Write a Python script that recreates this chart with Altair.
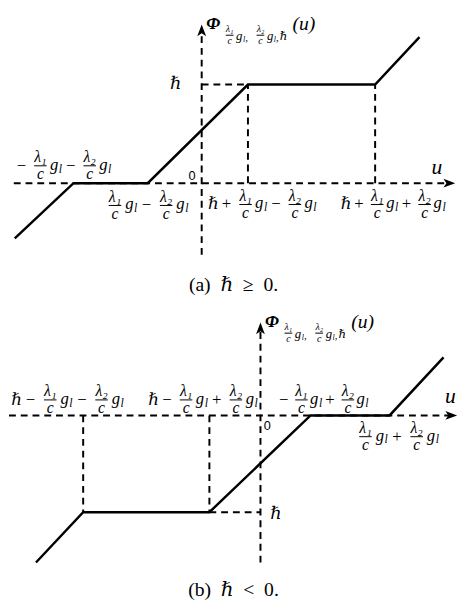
import altair as alt
import pandas as pd

# ---------------- data (u, Phi) in diagram units (1 unit = 10 reference px) -------------
# Panel (a): hbar >= 0  -- knots of the piecewise-linear function
A_KNOT_U = [-19.4, -13.3, -5.6, 4.8, 18.0, 22.6]
A_KNOT_V = [-5.7, 0.0, 0.0, 10.2, 10.2, 15.1]
A_XAXIS = [-19.5, 26.3]          # horizontal axis extent (arrow tip on the right)
A_YAXIS = [-7.4, 16.4]           # vertical axis extent (arrow tip on top)
A_DOM_U = [-20.0, 26.6]
A_DOM_V = [-12.7, 17.3]
A_LABELS = [  # first token centre u, last token centre u, fraction-bar v, tokens
    (-18.7, -10.0, 1.8, ["-", "F1", "g", "-", "F2", "g"]),
    (-9.0, -2.0, -2.3, ["F1", "g", "-", "F2", "g"]),
    (1.2, 11.3, -2.2, ["h", "+", "F1", "g", "-", "F2", "g"]),
    (15.0, 24.7, -2.2, ["h", "+", "F1", "g", "+", "F2", "g"]),
]
A_ZERO = (-1.0, 0.3)
A_HLABEL = (-2.7, 9.7)
A_ULABEL = (24.4, 1.0)
A_CAPTION = ("(a)\u2002\u210f\u2002\u2265\u20020.", 3.3, -11.1)

# Panel (b): hbar < 0
B_KNOT_U = [-23.3, -18.4, -5.3, 5.2, 13.4, 19.0]
B_KNOT_V = [-15.2, -10.0, -10.0, 0.0, 0.0, 6.0]
B_XAXIS = [-26.1, 20.4]
B_YAXIS = [-15.2, 9.6]
B_DOM_U = [-26.1, 20.5]
B_DOM_V = [-19.5, 11.3]
B_LABELS = [
    (-25.3, -14.8, 1.6, ["h", "-", "F1", "g", "-", "F2", "g"]),
    (-11.1, -0.9, 1.6, ["h", "-", "F1", "g", "+", "F2", "g"]),
    (2.4, 10.6, 1.6, ["-", "F1", "g", "+", "F2", "g"]),
    (10.9, 17.9, -2.2, ["F1", "g", "+", "F2", "g"]),
]
B_ZERO = (0.7, -1.5)
B_HLABEL = (1.6, -10.7)
B_ULABEL = (19.7, 1.3)
B_CAPTION = ("(b)\u2002\u210f\u2002<\u20020.", -2.8, -18.7)

WIDTH = 458
A_HEIGHT = 296
B_HEIGHT = 304

SERIF = "'Liberation Serif', 'DejaVu Serif', serif"
SANS = "'Liberation Sans', 'DejaVu Sans', sans-serif"
PX = 0.1  # one reference pixel in diagram units
TOKEN_W = {"h": 9, "op": 19, "frac": 21, "g": 12}
KIND = {"h": "h", "-": "op", "+": "op", "F1": "frac", "F2": "frac", "g": "g"}
RIGHT_ARROW = "M1,0L-1,-0.75L-0.5,0L-1,0.75Z"
UP_ARROW = "M0,-1L-0.75,1L0,0.5L0.75,1Z"


def label_rows(first, last, bar, tokens, texts, bars):
    centers = [0.0]
    for a, b in zip(tokens, tokens[1:]):
        centers.append(centers[-1] + (TOKEN_W[KIND[a]] + TOKEN_W[KIND[b]]) / 2)
    s = (last - first) / centers[-1]
    for t, c in zip(tokens, centers):
        cx = first + c * s
        if t == "h":
            texts.append(dict(x=cx, y=bar - 5 * PX, t="\u210f", s=17, f="it"))
        elif t in ("-", "+"):
            texts.append(dict(x=cx, y=bar - 5 * PX, t="\u2212" if t == "-" else "+", s=17, f="rm"))
        elif t in ("F1", "F2"):
            texts.append(dict(x=cx, y=bar + 4 * PX, t="\u03bb\u2081" if t == "F1" else "\u03bb\u2082", s=16, f="it"))
            texts.append(dict(x=cx, y=bar - 14 * PX, t="c", s=16, f="it"))
            bars.append(dict(x=cx - 6.5 * PX, x2=cx + 6.5 * PX, y=bar, y2=bar))
        else:
            texts.append(dict(x=cx - 2 * PX, y=bar - 4 * PX, t="g", s=17, f="it"))
            texts.append(dict(x=cx + 4.5 * PX, y=bar - 7 * PX, t="l", s=12, f="it"))


def phi_rows(tip, texts, bars):
    def X(dx):
        return dx * PX

    def Y(dy):
        return tip - dy * PX

    texts.append(dict(x=X(12), y=Y(5), t="\u03a6", s=18, f="bi"))
    for dx, num in [(29, "\u03bb\u2081"), (61, "\u03bb\u2082")]:
        texts.append(dict(x=X(dx), y=Y(8), t=num, s=10, f="it"))
        texts.append(dict(x=X(dx), y=Y(20), t="c", s=10, f="it"))
        bars.append(dict(x=X(dx - 4), x2=X(dx + 4), y=Y(11), y2=Y(11)))
    for dx in [40, 72]:
        texts.append(dict(x=X(dx - 1), y=Y(16), t="g", s=13, f="it"))
        texts.append(dict(x=X(dx + 4), y=Y(18), t="l", s=8, f="it"))
        texts.append(dict(x=X(dx + 6.5), y=Y(17), t=",", s=11, f="it"))
    texts.append(dict(x=X(85), y=Y(16), t="\u210f", s=12, f="it"))
    texts.append(dict(x=X(106), y=Y(6), t="(u)", s=20, f="it"))


STYLES = {
    "it": dict(font=SERIF, fontStyle="italic", fontWeight="normal"),
    "rm": dict(font=SERIF, fontStyle="normal", fontWeight="normal"),
    "bi": dict(font=SERIF, fontStyle="italic", fontWeight="bold"),
    "sans": dict(font=SANS, fontStyle="normal", fontWeight="normal"),
}


def panel(knot_u, knot_v, xaxis, yaxis, dom_u, dom_v, height, labels, zero, hlab, ulab, caption, guides):
    xs = alt.Scale(domain=dom_u, nice=False, zero=False)
    ys = alt.Scale(domain=dom_v, nice=False, zero=False)
    texts, bars = [], []
    for first, last, bar, tokens in labels:
        label_rows(first, last, bar, tokens, texts, bars)
    phi_rows(yaxis[1], texts, bars)
    texts.append(dict(x=zero[0], y=zero[1], t="0", s=13, f="sans"))
    texts.append(dict(x=hlab[0], y=hlab[1], t="\u210f", s=18, f="it"))
    texts.append(dict(x=ulab[0], y=ulab[1], t="u", s=22, f="it"))
    texts.append(dict(x=caption[1], y=caption[2], t=caption[0], s=20, f="rm"))

    segs = [
        dict(x=xaxis[0], y=0.0, x2=xaxis[1] - 0.6, y2=0.0),
        dict(x=0.0, y=yaxis[0], x2=0.0, y2=yaxis[1] - 0.6),
    ] + guides
    seg_df = pd.DataFrame(segs)
    line_df = pd.DataFrame({"x": knot_u, "y": knot_v, "i": range(len(knot_u))})

    enc = dict(x=alt.X("x:Q", scale=xs, axis=None), y=alt.Y("y:Q", scale=ys, axis=None))
    layers = [
        alt.Chart(seg_df).mark_rule(color="black", strokeWidth=2, strokeDash=[7, 5]).encode(
            x2="x2:Q", y2="y2:Q", **enc),
        alt.Chart(line_df).mark_line(color="black", strokeWidth=2.5).encode(order="i:O", **enc),
        alt.Chart(pd.DataFrame([dict(x=xaxis[1] - 0.6, y=0.0)])).mark_point(
            shape=RIGHT_ARROW, filled=True, size=144, color="black", opacity=1).encode(**enc),
        alt.Chart(pd.DataFrame([dict(x=0.0, y=yaxis[1] - 0.6)])).mark_point(
            shape=UP_ARROW, filled=True, size=144, color="black", opacity=1).encode(**enc),
        alt.Chart(pd.DataFrame(bars)).mark_rule(color="black", strokeWidth=1).encode(
            x2="x2:Q", y2="y2:Q", **enc),
    ]
    tdf = pd.DataFrame(texts)
    for f, st in STYLES.items():
        sub = tdf[tdf.f == f]
        if len(sub):
            layers.append(alt.Chart(sub).mark_text(
                align="center", baseline="alphabetic", color="black", **st).encode(
                text="t:N", size=alt.Size("s:Q", scale=None, legend=None), **enc))
    return alt.layer(*layers).properties(width=WIDTH, height=height)


a_h = A_KNOT_V[3]
A_GUIDES = [
    dict(x=A_KNOT_U[3], y=0.0, x2=A_KNOT_U[3], y2=a_h),
    dict(x=A_KNOT_U[4], y=0.0, x2=A_KNOT_U[4], y2=a_h),
    dict(x=0.0, y=a_h, x2=A_KNOT_U[3], y2=a_h),
]
b_h = B_KNOT_V[1]
B_GUIDES = [
    dict(x=B_KNOT_U[1], y=0.0, x2=B_KNOT_U[1], y2=b_h),
    dict(x=B_KNOT_U[2], y=0.0, x2=B_KNOT_U[2], y2=b_h),
    dict(x=B_KNOT_U[2], y=b_h, x2=0.0, y2=b_h),
]

pa = panel(A_KNOT_U, A_KNOT_V, A_XAXIS, A_YAXIS, A_DOM_U, A_DOM_V, A_HEIGHT, A_LABELS,
           A_ZERO, A_HLABEL, A_ULABEL, A_CAPTION, A_GUIDES)
pb = panel(B_KNOT_U, B_KNOT_V, B_XAXIS, B_YAXIS, B_DOM_U, B_DOM_V, B_HEIGHT, B_LABELS,
           B_ZERO, B_HLABEL, B_ULABEL, B_CAPTION, B_GUIDES)

chart = alt.vconcat(pa, pb, spacing=0).properties(padding=0).configure_view(stroke=None)
chart.save("out.html", embed_options={"renderer": "svg", "actions": False})
